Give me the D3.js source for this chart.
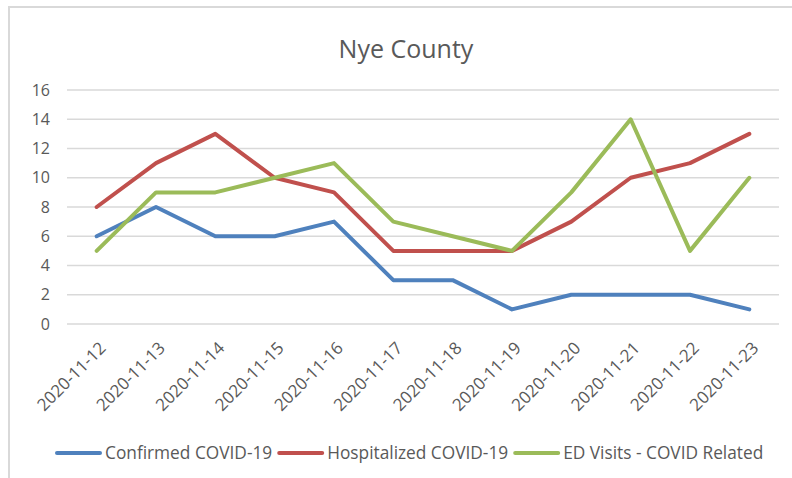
<!DOCTYPE html>
<html>
<head>
<meta charset="utf-8">
<script src="https://cdn.jsdelivr.net/npm/d3@7"></script>
<style>
  body { margin: 0; background: #fff; }
  text { font-family: "Open Sans", sans-serif; fill: #595959; }
</style>
</head>
<body>
<script>
// data
var dates = ["2020-11-12", "2020-11-13", "2020-11-14", "2020-11-15", "2020-11-16", "2020-11-17",
             "2020-11-18", "2020-11-19", "2020-11-20", "2020-11-21", "2020-11-22", "2020-11-23"];
var confirmed = [6, 8, 6, 6, 7, 3, 3, 1, 2, 2, 2, 1];
var hospitalized = [8, 11, 13, 10, 9, 5, 5, 5, 7, 10, 11, 13];
var edVisits = [5, 9, 9, 10, 11, 7, 6, 5, 9, 14, 5, 10];
var seriesNames = ["Confirmed COVID-19", "Hospitalized COVID-19", "ED Visits - COVID Related"];
var yTicks = [0, 2, 4, 6, 8, 10, 12, 14, 16];

var colours = ["#4F81BD", "#C0504D", "#9BBB59"];
var series = [confirmed, hospitalized, edVisits];

var W = 792, H = 478;
var margin = { top: 90, right: 13, bottom: 154, left: 67 },
    width = W - margin.left - margin.right,
    height = H - margin.top - margin.bottom;

var root = d3.select("body").append("svg")
    .attr("width", W)
    .attr("height", H);

// chart border
root.append("rect")
    .attr("x", 9).attr("y", 7)
    .attr("width", 800).attr("height", 500)
    .attr("fill", "none")
    .attr("stroke", "#D9D9D9")
    .attr("stroke-width", 2);

root.append("text")
    .attr("x", 406).attr("y", 58)
    .attr("text-anchor", "middle")
    .style("font-size", "25px")
    .text("Nye County");

var svg = root.append("g")
    .attr("transform", "translate(" + margin.left + "," + margin.top + ")");

var x = d3.scaleBand()
    .domain(dates)
    .range([0, width]);

var y = d3.scaleLinear()
    .domain([0, 16])
    .range([height, 0]);

// gridlines
svg.append("g")
    .selectAll("line")
    .data(yTicks)
    .enter().append("line")
    .attr("x1", 0).attr("x2", width)
    .attr("y1", function (d) { return y(d); })
    .attr("y2", function (d) { return y(d); })
    .attr("stroke", "#D9D9D9")
    .attr("stroke-width", 1.5);

// y labels
svg.append("g")
    .selectAll("text")
    .data(yTicks)
    .enter().append("text")
    .attr("x", -17)
    .attr("y", function (d) { return y(d); })
    .attr("dy", "0.35em")
    .attr("text-anchor", "end")
    .style("font-size", "16px")
    .text(function (d) { return d; });

// x labels
svg.append("g")
    .selectAll("text")
    .data(dates)
    .enter().append("text")
    .attr("transform", function (d) {
        return "translate(" + (x(d) + x.bandwidth() / 2 + 6) + "," + (height + 21) + ") rotate(-45)";
    })
    .attr("text-anchor", "end")
    .attr("dy", "0.35em")
    .style("font-size", "17px")
    .text(function (d) { return d; });

// lines
var line = d3.line()
    .x(function (d, i) { return x(dates[i]) + x.bandwidth() / 2; })
    .y(function (d) { return y(d); });

svg.append("g")
    .selectAll("path")
    .data(series)
    .enter().append("path")
    .attr("d", line)
    .attr("fill", "none")
    .attr("stroke", function (d, i) { return colours[i]; })
    .attr("stroke-width", 4)
    .attr("stroke-linejoin", "round")
    .attr("stroke-linecap", "round");

// legend
var legend = root.append("g").attr("transform", "translate(0,453)");
var lx = 55;
seriesNames.forEach(function (name, i) {
    legend.append("line")
        .attr("x1", lx + 2).attr("x2", lx + 45)
        .attr("y1", 0).attr("y2", 0)
        .attr("stroke", colours[i])
        .attr("stroke-width", 4)
        .attr("stroke-linecap", "round");
    var t = legend.append("text")
        .attr("x", lx + 50)
        .attr("dy", "0.35em")
        .style("font-size", "17.3px")
        .text(name);
    lx += 50 + t.node().getComputedTextLength() + 5;
});
</script>
</body>
</html>
